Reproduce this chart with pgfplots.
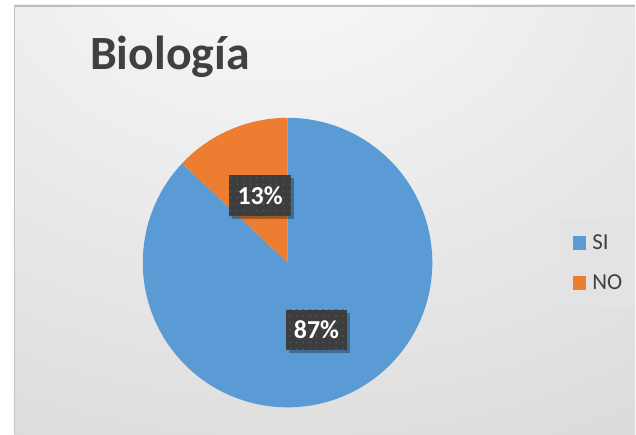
\documentclass[border=0pt]{standalone}
\usepackage{fontspec}
\setmainfont{Carlito}
\usepackage{pgfplots}
\usepackage{pgfplotstable}
\pgfplotsset{compat=1.18}
\usetikzlibrary{patterns.meta,shadows}
\definecolor{siblue}{HTML}{5B9BD5}
\definecolor{noorange}{HTML}{ED7D31}
\definecolor{txt}{HTML}{404040}
\definecolor{lblbox}{HTML}{3D3D3D}
\definecolor{lbldot}{HTML}{585858}
\definecolor{border}{HTML}{BFBFBF}
\definecolor{edge}{HTML}{C4C4C4}
\definecolor{legbg}{HTML}{E3E3E3}
\definecolor{ca}{HTML}{FAFAFA}
\definecolor{cb}{HTML}{E9E9E9}
\definecolor{cc}{HTML}{D7D7D7}
\definecolor{cd}{HTML}{CBCBCB}
\pgfdeclareradialshading{bgshade}{\pgfpoint{-5bp}{35bp}}{color(0bp)=(ca); color(30bp)=(cb); color(60bp)=(cc); color(90bp)=(cd); color(130bp)=(cd)}

\pgfplotstableread{
label value
SI 87
NO 13
}\piedata
\pgfplotstablegetelem{0}{value}\of\piedata \let\vSI\pgfplotsretval
\pgfplotstablegetelem{1}{value}\of\piedata \let\vNO\pgfplotsretval
\pgfmathsetmacro\aA{90}
\pgfmathsetmacro\aB{90-3.6*\vSI}
\pgfmathsetmacro\aC{90-3.6*\vSI-3.6*\vNO}

\begin{document}
\begin{tikzpicture}[x=1bp,y=1bp]
\fill[white] (0,0) rectangle (636,435);
\shade[shading=bgshade] (14,0) rectangle (636,430);
\draw[line width=2bp, draw=border] (14,429) -- (636,429);
\draw[line width=0.8bp, draw=edge] (14.4,0) -- (14.4,430);
\fill[legbg] (562,128) rectangle (636,217);
\begin{axis}[at={(0,0)}, anchor=south west,
  width=636bp, height=435bp, scale only axis, hide axis,
  xmin=0, xmax=636, ymin=0, ymax=435, clip=false,
  legend style={at={(axis cs:574,171.5)}, anchor=west, draw=none, fill=none,
    font=\fontsize{23}{23}\selectfont, text=txt, row sep=20bp,
    inner xsep=0pt, inner ysep=0pt,
    /tikz/column 2/.style={column sep=0pt},
    /tikz/every odd column/.style={column sep=4bp}},
  legend cell align=left,
  legend image code/.code={\fill[#1] (0bp,-7bp) rectangle (13bp,7bp);}]
\addplot[fill=siblue, draw=none, domain=\aB:\aA, samples=220]
  ({288+145*cos(x)},{172+145*sin(x)}) -- (axis cs:288,172) -- cycle;
\addlegendentry{SI}
\addplot[fill=noorange, draw=none, domain=\aC:\aB, samples=40]
  ({288+145*cos(x)},{172+145*sin(x)}) -- (axis cs:288,172) -- cycle;
\addlegendentry{NO}
\end{axis}
\node[anchor=base west, text=txt, inner sep=0pt,
  font=\bfseries\fontsize{48}{48}\selectfont] at (90,365) {Biología};
\tikzset{lbl/.style={fill=lblbox, minimum width=62bp, minimum height=41bp,
  inner sep=0pt, text=white, font=\bfseries\fontsize{26}{26}\selectfont,
  drop shadow={shadow xshift=3bp, shadow yshift=-3bp, opacity=0.3, fill=black},
  postaction={pattern={Dots[radius=0.9bp, distance=6.6bp]}, pattern color=lbldot}}}
\node[lbl] at (260.5,239) {13\%};
\node[lbl] at (317,104.5) {87\%};
\end{tikzpicture}
\end{document}
